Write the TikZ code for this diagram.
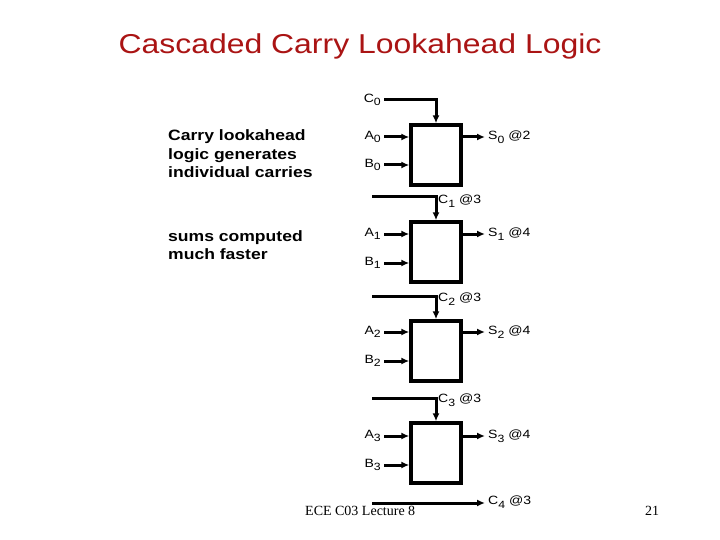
\documentclass[tikz,border=0pt]{standalone}
\usepackage{fontspec}
\setmainfont[FakeStretch=1.17]{Liberation Sans}
\newfontfamily\footfont{Liberation Serif}
\usetikzlibrary{arrows.meta,positioning}
\newcommand{\lsub}[1]{\raisebox{-3.5pt}{\fontsize{10.5}{11}\selectfont#1}}

\begin{document}
\begin{tikzpicture}[x=1pt,y=-1pt]
\tikzstyle{cla} = [rectangle, draw, line width=3.4pt, minimum width=50pt, minimum height=60pt, inner sep=0pt]
\tikzstyle{sig} = [line width=3pt, -{Latex[length=8pt,width=7pt]}]
\tikzstyle{lbl} = [font=\fontsize{12}{13}\selectfont, inner xsep=3pt, inner ysep=1pt]
\tikzstyle{note} = [font=\bfseries\fontsize{15}{18.3}\selectfont, align=left, inner sep=0pt, anchor=base west]

\useasboundingbox (0,0) rectangle (720,540);

% Title
\node [font=\fontsize{27.3}{30}\selectfont, text={rgb,255:red,170;green,20;blue,20}, anchor=base] (title) at (360,54) {Cascaded Carry Lookahead Logic};

% Remarks on the left (base = last line)
\node [note] (claNote) at (168,177.6) {Carry lookahead\\logic generates\\individual carries};
\node [note] (sumNote) at (168,259.3) {sums computed\\much faster};

% Adder cells
\node [cla] (box0) at (436,155) {};
\node [cla] (box1) at (436,252) {};
\node [cla] (box2) at (436,351) {};
\node [cla] (box3) at (436,453) {};

% Cell 0
\node [lbl, anchor=east] (c0) at (384,100) {C\lsub{0}};
\node [lbl, anchor=east] (a0) at (384,137) {A\lsub{0}};
\node [lbl, anchor=east] (b0) at (384,165) {B\lsub{0}};
\node [lbl, anchor=west] (s0) at (485,137) {S\lsub{0} @2};
\draw [sig] (c0.east) -| (box0.north);
\draw [sig] (a0.east) -- (a0.east -| box0.west);
\draw [sig] (b0.east) -- (b0.east -| box0.west);
\draw [sig] (s0.west -| box0.east) -- (s0.west);

% Cell 1
\coordinate (c1start) at (372,197);
\node [lbl, anchor=west] (c1) at (435,201) {C\lsub{1} @3};
\node [lbl, anchor=east] (a1) at (384,234) {A\lsub{1}};
\node [lbl, anchor=east] (b1) at (384,263) {B\lsub{1}};
\node [lbl, anchor=west] (s1) at (485,234) {S\lsub{1} @4};
\draw [sig] (c1start) -| (box1.north);
\draw [sig] (a1.east) -- (a1.east -| box1.west);
\draw [sig] (b1.east) -- (b1.east -| box1.west);
\draw [sig] (s1.west -| box1.east) -- (s1.west);

% Cell 2
\coordinate (c2start) at (372,296);
\node [lbl, anchor=west] (c2) at (435,299) {C\lsub{2} @3};
\node [lbl, anchor=east] (a2) at (384,332) {A\lsub{2}};
\node [lbl, anchor=east] (b2) at (384,361) {B\lsub{2}};
\node [lbl, anchor=west] (s2) at (485,332) {S\lsub{2} @4};
\draw [sig] (c2start) -| (box2.north);
\draw [sig] (a2.east) -- (a2.east -| box2.west);
\draw [sig] (b2.east) -- (b2.east -| box2.west);
\draw [sig] (s2.west -| box2.east) -- (s2.west);

% Cell 3
\coordinate (c3start) at (372,398);
\node [lbl, anchor=west] (c3) at (435,400) {C\lsub{3} @3};
\node [lbl, anchor=east] (a3) at (384,436) {A\lsub{3}};
\node [lbl, anchor=east] (b3) at (384,465) {B\lsub{3}};
\node [lbl, anchor=west] (s3) at (485,436) {S\lsub{3} @4};
\draw [sig] (c3start) -| (box3.north);
\draw [sig] (a3.east) -- (a3.east -| box3.west);
\draw [sig] (b3.east) -- (b3.east -| box3.west);
\draw [sig] (s3.west -| box3.east) -- (s3.west);

% Final carry
\coordinate (c4start) at (372,503);
\node [lbl, anchor=west] (c4) at (485,502) {C\lsub{4} @3};
\draw [sig] (c4start) -- (c4start -| c4.west);

% Footer
\node [font=\footfont\fontsize{14}{16}\selectfont, anchor=base west, inner sep=0pt] (footer) at (305,515) {ECE C03 Lecture 8};
\node [font=\footfont\fontsize{14}{16}\selectfont, anchor=base west, inner sep=0pt] (pageNo) at (645,515) {21};
\end{tikzpicture}
\end{document}
